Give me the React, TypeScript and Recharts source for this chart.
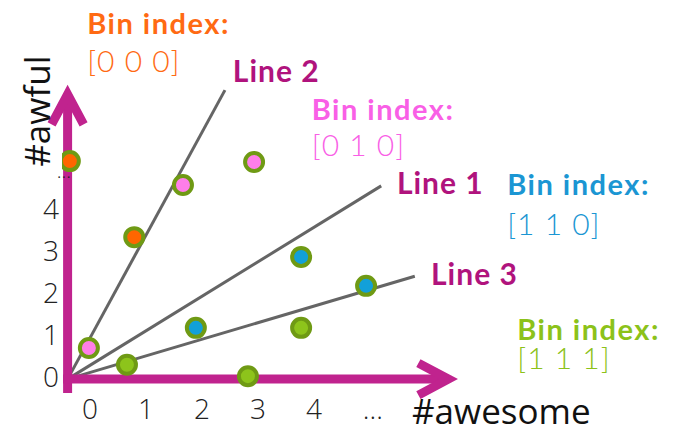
import React from 'react';
import { ScatterChart, Scatter, XAxis, YAxis, ReferenceLine, ReferenceDot } from 'recharts';

// axis ticks (the last one on each axis is the "..." marker)
const xTicks = [0, 1, 2, 3, 4, 5.05];
const xTickLabels = ['0', '1', '2', '3', '4', '...'];
const yTicks = [0, 1, 2, 3, 4, 4.78];
const yTickLabels = ['0', '1', '2', '3', '4', '...'];

// documents, grouped by the bin they fall in
const orangePoints = [{ x: -0.36, y: 5.14 }, { x: 0.79, y: 3.33 }];
const pinkPoints = [{ x: -0.02, y: 0.69 }, { x: 1.66, y: 4.57 }, { x: 2.93, y: 5.12 }];
const bluePoints = [{ x: 1.89, y: 1.17 }, { x: 3.77, y: 2.86 }, { x: 4.93, y: 2.17 }];
const greenPoints = [{ x: 0.66, y: 0.29 }, { x: 2.82, y: 0.02 }, { x: 3.77, y: 1.17 }];

// axes start here and the random lines go out from it
const origin = { x: -0.4, y: -0.05 };
const xAxisStart = { x: -0.48, y: -0.05 };
const xAxisEnd = { x: 6.4, y: -0.05 };
const yAxisStart = { x: -0.4, y: -0.38 };
const yAxisEnd = { x: -0.4, y: 6.73 };

const lineNames = ['Line 1', 'Line 2', 'Line 3'];
const lineEnds = [{ x: 5.2, y: 4.55 }, { x: 2.41, y: 6.83 }, { x: 5.8, y: 2.4 }];
const lineLabelAt = [{ x: 5.48, y: 4.36 }, { x: 2.55, y: 7.02 }, { x: 6.09, y: 2.19 }];

const binIndexes = ['[0 0 0]', '[0 1 0]', '[1 1 0]', '[1 1 1]'];
const binTitleAt = [{ x: -0.05, y: 8.17 }, { x: 3.96, y: 6.12 }, { x: 7.45, y: 4.33 }, { x: 7.63, y: 0.88 }];
const binIndexAt = [{ x: -0.05, y: 7.26 }, { x: 3.96, y: 5.26 }, { x: 7.45, y: 3.38 }, { x: 7.63, y: 0.19 }];

const xAxisTitle = '#awesome';
const xAxisTitleAt = { x: 5.75, y: -1.12 };
const yAxisTitle = '#awful';
const yAxisTitleAt = { x: -0.96, y: 6.33 };

const AXIS = '#c0238e';
const LABEL = '#b0137d';
const RING = '#6f9a14';
const binColors = ['#ff6a13', '#f95fe6', '#1b96d3', '#8cc21a'];
const pointFills = ['#ff6600', '#ff7ee9', '#12a0d9', '#8dc41b'];

const TICK_FONT = '"Open Sans", "Noto Sans", sans-serif';
const LABEL_FONT = 'Lato, "Noto Sans", sans-serif';

const dot = (fill: string, stroke: string) => (p: any) => (
  <circle cx={p.cx} cy={p.cy} r={9} fill={fill} stroke={stroke} strokeWidth={4} />
);

const arrow = (p: any) => {
  const { x1, y1, x2, y2 } = p;
  const a = Math.atan2(y2 - y1, x2 - x1);
  const len = 34;
  const spread = 0.49;
  const l = { x: x2 - len * Math.cos(a - spread), y: y2 - len * Math.sin(a - spread) };
  const r = { x: x2 - len * Math.cos(a + spread), y: y2 - len * Math.sin(a + spread) };
  return (
    <g>
      <line x1={x1} y1={y1} x2={x2} y2={y2} stroke={AXIS} strokeWidth={9} />
      <path
        d={`M${l.x},${l.y}L${x2},${y2}L${r.x},${r.y}`}
        fill="none"
        stroke={AXIS}
        strokeWidth={9}
        strokeLinejoin="miter"
      />
    </g>
  );
};

const textAt = (text: string, style: React.SVGProps<SVGTextElement>, rotate = false) => (p: any) => (
  <text
    x={p.cx}
    y={p.cy}
    transform={rotate ? `rotate(-90 ${p.cx} ${p.cy})` : undefined}
    {...style}
  >
    {text}
  </text>
);

const XTick = (p: any) => {
  const i = xTicks.indexOf(p.payload.value);
  return (
    <text x={p.x} y={p.y} dy="0.71em" textAnchor="middle" fontFamily={TICK_FONT} fontWeight={300} fontSize={28} fill="#222">
      {xTickLabels[i]}
    </text>
  );
};

const YTick = (p: any) => {
  const i = yTicks.indexOf(p.payload.value);
  const dots = yTickLabels[i] === '...';
  return (
    <text
      x={dots ? p.x + 12 : p.x}
      y={p.y}
      dy={dots ? '0.1em' : '0.355em'}
      textAnchor="end"
      fontFamily={TICK_FONT}
      fontWeight={300}
      fontSize={dots ? 20 : 28}
      fill="#222"
    >
      {yTickLabels[i]}
    </text>
  );
};

export default function App() {
  const groups = [orangePoints, pinkPoints, bluePoints, greenPoints];
  return (
    <div style={{ position: 'absolute', left: 0, top: 0, width: 677, height: 429, background: '#fff' }}>
      <ScatterChart width={677} height={429} margin={{ top: 62, right: 195, bottom: 0, left: 0 }}>
        <XAxis
          type="number"
          dataKey="x"
          domain={[-0.5, 7]}
          ticks={xTicks}
          height={31}
          axisLine={false}
          tickLine={false}
          tickSize={0}
          tickMargin={1}
          tick={<XTick />}
          interval={0}
          allowDataOverflow
        />
        <YAxis
          type="number"
          dataKey="y"
          domain={[-0.5, 7.5]}
          ticks={yTicks}
          width={62}
          axisLine={false}
          tickLine={false}
          tickSize={0}
          tickMargin={3}
          tick={<YTick />}
          interval={0}
          allowDataOverflow
        />

        {groups.map((g, i) => (
          <Scatter key={i} data={g} shape={dot(pointFills[i], RING)} isAnimationActive={false} />
        ))}

        {lineEnds.map((e, i) => (
          <ReferenceLine
            key={lineNames[i]}
            segment={[origin, e]}
            stroke="#656565"
            strokeWidth={3}
            ifOverflow="visible"
          />
        ))}

        <ReferenceLine segment={[yAxisStart, yAxisEnd]} shape={arrow} ifOverflow="visible" />
        <ReferenceLine segment={[xAxisStart, xAxisEnd]} shape={arrow} ifOverflow="visible" />

        {lineNames.map((n, i) => (
          <ReferenceDot
            key={n}
            x={lineLabelAt[i].x}
            y={lineLabelAt[i].y}
            r={0}
            ifOverflow="visible"
            shape={textAt(n, { fill: LABEL, fontFamily: LABEL_FONT, fontWeight: 700, fontSize: 30, letterSpacing: 1 })}
          />
        ))}

        {binIndexes.map((b, i) => (
          <ReferenceDot
            key={'t' + b}
            x={binTitleAt[i].x}
            y={binTitleAt[i].y}
            r={0}
            ifOverflow="visible"
            shape={textAt('Bin index:', { fill: binColors[i], fontFamily: LABEL_FONT, fontWeight: 700, fontSize: 29, letterSpacing: 1.5 })}
          />
        ))}
        {binIndexes.map((b, i) => (
          <ReferenceDot
            key={'i' + b}
            x={binIndexAt[i].x}
            y={binIndexAt[i].y}
            r={0}
            ifOverflow="visible"
            shape={textAt(b, { fill: binColors[i], fontFamily: LABEL_FONT, fontWeight: 300, fontSize: 30, letterSpacing: 1 })}
          />
        ))}

        <ReferenceDot
          x={xAxisTitleAt.x}
          y={xAxisTitleAt.y}
          r={0}
          ifOverflow="visible"
          shape={textAt(xAxisTitle, { fill: '#111', fontFamily: TICK_FONT, fontSize: 35 })}
        />
        <ReferenceDot
          x={yAxisTitleAt.x}
          y={yAxisTitleAt.y}
          r={0}
          ifOverflow="visible"
          shape={textAt(yAxisTitle, { fill: '#111', fontFamily: TICK_FONT, fontSize: 35, textAnchor: 'middle', dominantBaseline: 'central' }, true)}
        />
      </ScatterChart>
    </div>
  );
}
